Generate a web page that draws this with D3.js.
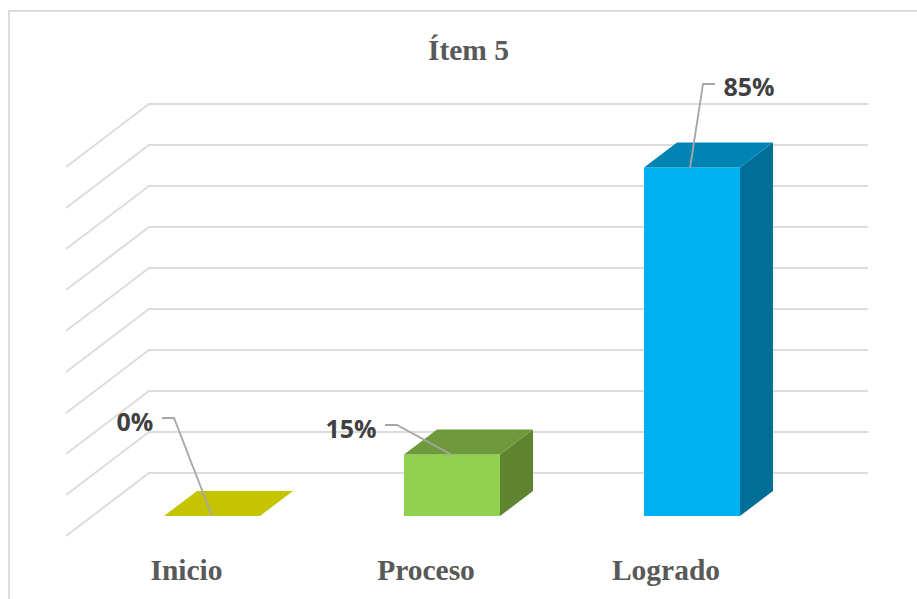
<!DOCTYPE html>
<html><head><meta charset="utf-8">
<script src="https://cdn.jsdelivr.net/npm/d3@7"></script>
<style>html,body{margin:0;padding:0;background:#fff}svg{display:block}</style></head>
<body><script>
const categories = ["Inicio","Proceso","Logrado"];
const values = [0,15,85];
const labels = ["0%","15%","85%"];
const gridTicks = [0,10,20,30,40,50,60,70,80,90];
const frontColors = ["#c4c400","#92d050","#00b0f0"];
const topColors = ["#c4c400","#6f9a3c","#0084b4"];
const sideColors = ["#c4c400","#5e8431","#006f98"];

const W=917,H=599;
const svg=d3.select("body").append("svg").attr("width",W).attr("height",H);
svg.append("rect").attr("x",9).attr("y",11).attr("width",W+20).attr("height",H+20)
  .attr("fill","#fff").attr("stroke","#dcdcdc").attr("stroke-width",2);

const y=d3.scaleLinear().domain([0,90]).range([516,147]);
const x=d3.scaleBand().domain(categories).range([164,740]).paddingInner(0.6).paddingOuter(0);
const barDx=33, barDy=-25;
const wallDx=83, wallDy=-63;

// grid
gridTicks.forEach(t=>{
  const yb=y(t)-43;
  svg.append("path").attr("fill","none").attr("stroke","#dcdcdc").attr("stroke-width",2)
    .attr("d",d3.line()([[149-wallDx,yb-wallDy],[149,yb],[868,yb]]));
});

// bars
const line=d3.line();
categories.forEach((c,i)=>{
  const x0=x(c),x1=x0+x.bandwidth(),yb=y(0),yt=y(values[i]);
  const g=svg.append("g");
  if(values[i]>0){
    g.append("path").attr("fill",sideColors[i]).attr("d",line([[x1,yt],[x1+barDx,yt+barDy],[x1+barDx,yb+barDy],[x1,yb]])+"Z");
    g.append("rect").attr("x",x0).attr("y",yt).attr("width",x.bandwidth()).attr("height",yb-yt).attr("fill",frontColors[i]);
  }
  g.append("path").attr("fill",topColors[i]).attr("d",line([[x0,yt],[x0+barDx,yt+barDy],[x1+barDx,yt+barDy],[x1,yt]])+"Z");
});

// leader lines and labels
const leaders=[[[162,418],[174,418],[212,516]],[[385,425],[397,425],[452,455]],[[715,84],[703,84],[690,168]]];
const labelPos=[[135,431],[351,438],[749,96]];
leaders.forEach(p=>svg.append("path").attr("fill","none").attr("stroke","#a6a6a6").attr("stroke-width",1.8).attr("d",line(p)));
svg.selectAll(".dl").data(labels).enter().append("text").attr("class","dl")
  .attr("x",(d,i)=>labelPos[i][0]).attr("y",(d,i)=>labelPos[i][1]).attr("text-anchor","middle")
  .attr("font-family","'Open Sans',sans-serif").attr("font-weight",700).attr("font-size",25).attr("fill","#404040").text(d=>d);

// category labels
const catX=[186.5,426,666];
svg.selectAll(".cat").data(categories).enter().append("text").attr("class","cat")
  .attr("x",(d,i)=>catX[i]).attr("y",580).attr("text-anchor","middle")
  .attr("font-family","'Liberation Serif',serif").attr("font-weight",700).attr("font-size",29.5).attr("fill","#595959").text(d=>d);

svg.append("text").attr("x",468.5).attr("y",60).attr("text-anchor","middle")
  .attr("font-family","'Liberation Serif',serif").attr("font-weight",700).attr("font-size",29.5).attr("fill","#595959").text("Ítem 5");
</script></body></html>
